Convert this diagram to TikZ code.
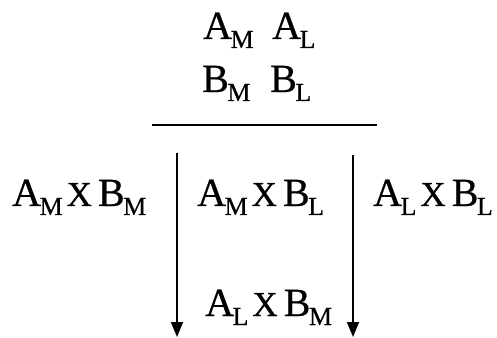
\documentclass[tikz,border=0pt]{standalone}
\usepackage{fontspec}
\setmainfont[FakeBold=0.6]{Liberation Serif}
\usetikzlibrary{arrows.meta}
\newcommand{\lowsub}[1]{\kern-1.5pt\raisebox{-9pt}{\fontsize{26}{26}\selectfont #1}}
\newcommand{\crossx}{\hspace{4pt}{\fontsize{35}{35}\selectfont X}\hspace{6pt}}
\tikzset{
  lbl/.style={anchor=base west, inner sep=0pt, font=\fontsize{40}{40}\selectfont},
  arr/.style={line width=1.8pt, -{Triangle[length=15pt,width=12pt]}},
  rule/.style={line width=2.2pt}
}
\begin{document}
\begin{tikzpicture}[x=1pt,y=1pt]
\useasboundingbox (0,0) rectangle (497,337);
% top genotypes
\node[lbl] (am) at (203,298) {A\lowsub{M}};
\node[lbl] (al) at (272,298) {A\lowsub{L}};
\node[lbl] (bm) at (202,245) {B\lowsub{M}};
\node[lbl] (bl) at (270,245) {B\lowsub{L}};
% rule
\coordinate (r1) at (152,212);
\coordinate (r2) at (377,212);
\draw[rule] (r1) -- (r2);
% arrows
\coordinate (a1s) at (177,184);
\coordinate (a1e) at (177,0);
\coordinate (a2s) at (353,182);
\coordinate (a2e) at (353,0);
\draw[arr] (a1s) -- (a1e);
\draw[arr] (a2s) -- (a2e);
% products
\node[lbl] (p1) at (12,131) {A\lowsub{M}\crossx B\lowsub{M}};
\node[lbl] (p2) at (197,131) {A\lowsub{M}\crossx B\lowsub{L}};
\node[lbl] (p3) at (373,131) {A\lowsub{L}\crossx B\lowsub{L}};
\node[lbl] (p4) at (205,21) {A\lowsub{L}\crossx B\lowsub{M}};
\end{tikzpicture}
\end{document}
